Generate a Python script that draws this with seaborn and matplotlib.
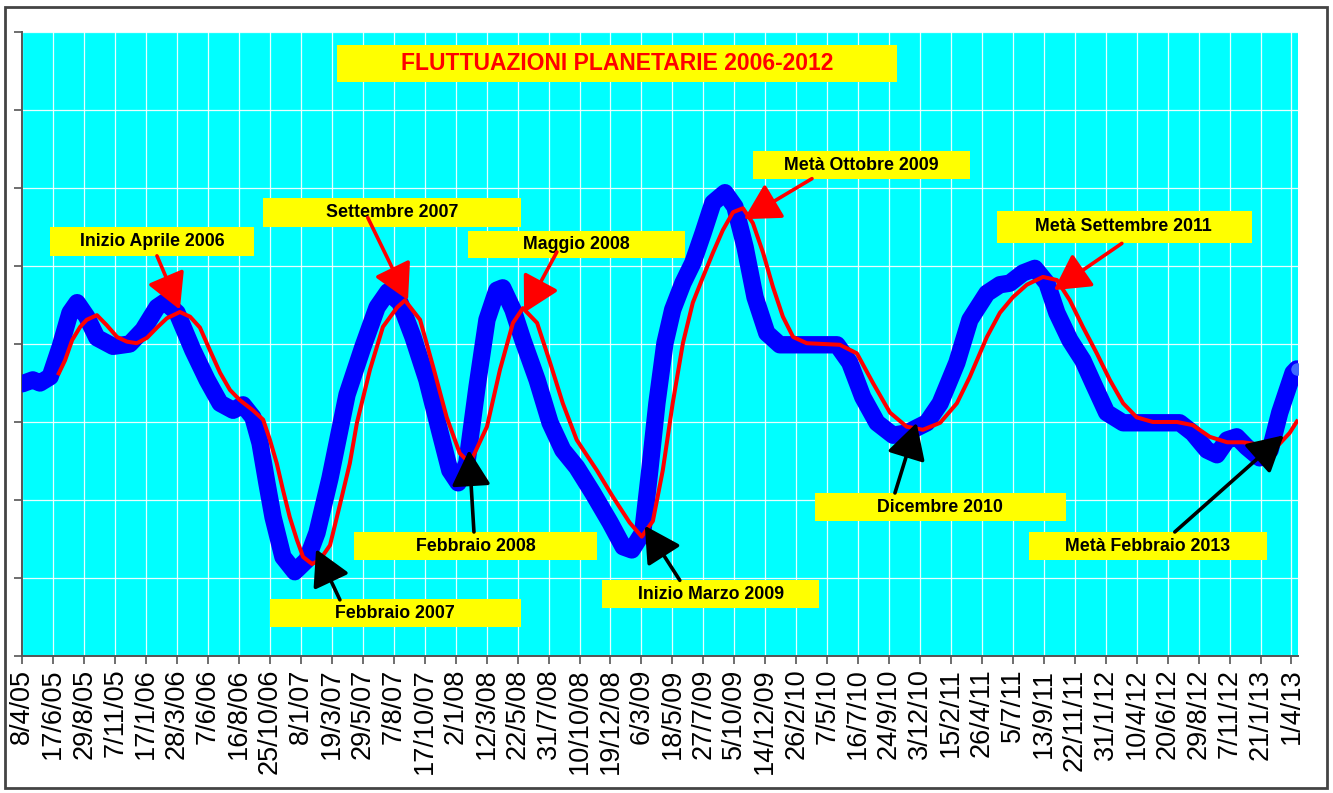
import matplotlib
matplotlib.use("Agg")
import matplotlib.pyplot as plt
from matplotlib.patches import Rectangle
import seaborn as sns
import pandas as pd

# ---------------- data ----------------
tick_labels = ["8/4/05", "17/6/05", "29/8/05", "7/11/05", "17/1/06", "28/3/06", "7/6/06",
               "16/8/06", "25/10/06", "8/1/07", "19/3/07", "29/5/07", "7/8/07", "17/10/07",
               "2/1/08", "12/3/08", "22/5/08", "31/7/08", "10/10/08", "19/12/08", "6/3/09",
               "18/5/09", "27/7/09", "5/10/09", "14/12/09", "26/2/10", "7/5/10", "16/7/10",
               "24/9/10", "3/12/10", "15/2/11", "26/4/11", "5/7/11", "13/9/11", "22/11/11",
               "31/1/12", "10/4/12", "20/6/12", "29/8/12", "7/11/12", "21/1/13", "1/4/13"]
# x positions are counted in label steps (0 = 8/4/05, 41 = 1/4/13)
blue_x = [0.00, 0.34, 0.57, 0.90, 1.22, 1.54, 1.77, 2.08, 2.41, 2.93, 3.47, 3.90, 4.35, 4.61,
          5.00, 5.51, 5.97, 6.39, 6.81, 7.13, 7.45, 7.68, 7.90, 8.10, 8.42, 8.80, 9.19, 9.52,
          9.94, 10.49, 11.00, 11.46, 11.81, 12.20, 12.62, 13.07, 13.50, 13.81, 14.08, 14.36,
          14.69, 15.01, 15.33, 15.52, 15.85, 16.17, 16.63, 17.05, 17.46, 17.91, 18.43, 18.99,
          19.41, 19.69, 20.04, 20.27, 20.50, 20.76, 21.01, 21.34, 21.66, 21.99, 22.31, 22.70,
          23.02, 23.35, 23.67, 24.05, 24.47, 25.34, 26.32, 26.73, 27.15, 27.61, 28.13, 28.57,
          29.22, 29.65, 30.19, 30.61, 31.16, 31.58, 31.90, 32.32, 32.71, 33.10, 33.42, 33.84,
          34.26, 34.59, 35.03, 35.56, 36.33, 37.39, 37.81, 38.27, 38.59, 38.92, 39.23, 39.55,
          39.97, 40.31, 40.62, 41.05, 41.17]
blue_y = [3.49, 3.54, 3.50, 3.58, 3.96, 4.40, 4.53, 4.35, 4.08, 3.97, 4.00, 4.18, 4.47, 4.54,
          4.40, 3.92, 3.54, 3.24, 3.15, 3.22, 3.06, 2.73, 2.22, 1.78, 1.27, 1.08, 1.23, 1.58,
          2.28, 3.35, 3.96, 4.47, 4.67, 4.53, 4.09, 3.54, 2.86, 2.38, 2.22, 2.47,
          3.45, 4.31, 4.69, 4.72, 4.44, 4.05, 3.54, 2.99, 2.64, 2.42, 2.09, 1.71,
          1.40, 1.36, 1.58, 2.38, 3.24, 4.01, 4.44, 4.78, 5.04, 5.42, 5.81, 5.94,
          5.76, 5.24, 4.60, 4.14, 3.99, 3.99, 3.99, 3.76, 3.32, 2.99, 2.83, 2.86,
          2.99, 3.24, 3.76, 4.31, 4.65, 4.76, 4.78, 4.91, 4.97, 4.78, 4.40, 4.05,
          3.79, 3.50, 3.12, 2.99, 2.99, 2.99, 2.86, 2.64, 2.58, 2.77, 2.81, 2.68,
          2.54, 2.64, 3.12, 3.63, 3.68]
red_x = [1.15, 1.38, 1.61, 1.87, 2.08, 2.41, 2.73, 3.06, 3.38, 3.70, 4.03, 4.35, 4.67, 5.09,
         5.42, 5.74, 6.06, 6.39, 6.71, 7.03, 7.45, 7.78, 8.00, 8.22, 8.42, 8.64, 8.87, 9.07,
         9.36, 9.61, 9.94, 10.26, 10.58, 10.81, 11.23, 11.65, 12.11, 12.36, 12.85, 13.27, 13.71,
         14.13, 14.46, 15.01, 15.43, 15.85, 16.17, 16.63, 17.05, 17.46, 17.91, 18.56, 19.08,
         19.62, 20.01, 20.37, 20.69, 21.01, 21.34, 21.66, 21.99, 22.31, 22.63, 22.96, 23.28,
         23.60, 23.93, 24.25, 24.57, 24.90, 25.34, 26.41, 26.96, 27.48, 28.03, 28.57, 29.09,
         29.65, 30.19, 30.61, 31.16, 31.58, 32.00, 32.45, 32.97, 33.42, 33.84, 34.26, 34.71,
         35.13, 35.56, 36.00, 36.52, 37.30, 37.81, 38.36, 38.92, 39.43, 39.97, 40.52, 40.94,
         41.21]
red_y = [3.60, 3.79, 4.05, 4.22, 4.31, 4.37, 4.24, 4.09, 4.03, 4.01, 4.08, 4.21, 4.33, 4.41,
         4.35, 4.21, 3.92, 3.63, 3.41, 3.28, 3.15, 3.03, 2.77, 2.47, 2.13, 1.78, 1.49, 1.27,
         1.18, 1.23, 1.42, 1.94, 2.47, 2.99, 3.67, 4.22, 4.47, 4.56, 4.31, 3.71, 3.06,
         2.60, 2.47, 2.94, 3.67, 4.27, 4.46, 4.27, 3.76, 3.24, 2.77, 2.38, 2.04,
         1.71, 1.53, 1.73, 2.38, 3.24, 4.01, 4.53, 4.86, 5.17, 5.46, 5.69, 5.74,
         5.55, 5.17, 4.73, 4.35, 4.09, 4.01, 3.99, 3.88, 3.50, 3.12, 2.94, 2.90,
         2.99, 3.24, 3.58, 4.09, 4.40, 4.60, 4.76, 4.86, 4.82, 4.56, 4.22, 3.88,
         3.54, 3.24, 3.06, 3.00, 3.00, 2.96, 2.81, 2.74, 2.74, 2.71, 2.68, 2.86,
         3.03]

title_text = "FLUTTUAZIONI PLANETARIE 2006-2012"
note_texts = ["Inizio Aprile 2006", "Settembre 2007", "Maggio 2008", "Metà Ottobre 2009",
              "Metà Settembre 2011", "Febbraio 2007", "Febbraio 2008", "Inizio Marzo 2009",
              "Dicembre 2010", "Metà Febbraio 2013"]

# ---------------- style / layout ----------------
sns.set_style("white")
plt.rcParams['font.family'] = ['Liberation Sans', 'DejaVu Sans']

fig = plt.figure(figsize=(13.33, 7.93), dpi=100)
fig.patch.set_facecolor("white")
ax = fig.add_axes([22.3 / 1333, 1 - 656 / 793, (1298 - 22.3) / 1333, (656 - 32) / 793])
ax.set_facecolor("#00FFFF")

df_b = pd.DataFrame({"x": blue_x, "y": blue_y})
df_r = pd.DataFrame({"x": red_x, "y": red_y})
sns.lineplot(data=df_b, x="x", y="y", ax=ax, color="#0000FF", linewidth=12.5, sort=False,
             solid_capstyle="round", solid_joinstyle="round", zorder=3)
ax.plot(blue_x[-1:], blue_y[-1:], "o", ms=8, mfc="#3F6BFF", mec="#3F6BFF", zorder=4)
sns.lineplot(data=df_r, x="x", y="y", ax=ax, color="#FF0000", linewidth=2.9, sort=False,
             solid_capstyle="butt", solid_joinstyle="round", zorder=5)

ax.set_xlim(0, 41.21)
ax.set_ylim(0, 8)
ax.set_xticks(range(len(tick_labels)))
ax.set_xticklabels(tick_labels, rotation=90, fontsize=19.5, va="top", ha="center",
                   color="black")
ax.set_yticks(range(0, 9))
ax.set_yticklabels([])
ax.set_xlabel("")
ax.set_ylabel("")
ax.grid(True, color="white", linewidth=0.9, alpha=0.9, zorder=0)
ax.set_axisbelow(True)
ax.tick_params(axis="x", direction="out", length=6, width=1.2, color="#555555", pad=3,
               bottom=True)
ax.tick_params(axis="y", direction="out", length=6, width=1.2, color="#555555", left=True)
for s in ["top", "right"]:
    ax.spines[s].set_visible(False)
for s in ["left", "bottom"]:
    ax.spines[s].set_color("#555555")
    ax.spines[s].set_linewidth(1.4)

# ---------------- title box ----------------
ax.add_patch(Rectangle((10.16, 7.36), 28.26 - 10.16, 7.83 - 7.36, facecolor="#FFFF00",
                       edgecolor="none", zorder=6))
ax.text(19.21, 7.595, title_text, color="#FF0000", fontsize=16.5, fontweight="bold",
        ha="center", va="center", zorder=7)

# ---------------- annotation boxes ----------------
# (x0, x1, y0, y1, text_x, text_y, arrow_from, arrow_to, color)
boxes = [
    (0.90, 7.48, 5.13, 5.50, 4.19, 5.32, (4.35, 5.13), (5.09, 4.44), "#FF0000"),
    (7.78, 16.10, 5.50, 5.87, 11.95, 5.69, (11.16, 5.62), (12.46, 4.56), "#FF0000"),
    (14.40, 21.40, 5.10, 5.45, 17.91, 5.28, (17.27, 5.18), (16.21, 4.40), "#FF0000"),
    (23.60, 30.61, 6.12, 6.47, 27.09, 6.29, (25.51, 6.12), (23.31, 5.60), "#FF0000"),
    (31.48, 39.71, 5.29, 5.71, 35.58, 5.51, (35.52, 5.29), (33.32, 4.69), "#FF0000"),
    (8.01, 16.10, 0.37, 0.73, 12.04, 0.55, (10.26, 0.72), (9.49, 1.37), "#000000"),
    (10.72, 18.56, 1.23, 1.59, 14.66, 1.41, (14.59, 1.59), (14.43, 2.64), "#000000"),
    (18.72, 25.73, 0.62, 0.97, 22.24, 0.79, (21.24, 0.97), (20.11, 1.67), "#000000"),
    (25.60, 33.71, 1.73, 2.09, 29.65, 1.91, (28.19, 2.09), (28.89, 2.99), "#000000"),
    (32.52, 40.20, 1.23, 1.59, 36.35, 1.41, (37.23, 1.59), (40.75, 2.83), "#000000"),
]
for (x0, x1, y0, y1, tx, ty, a0, a1, col), txt in zip(boxes, note_texts):
    ax.add_patch(Rectangle((x0, y0), x1 - x0, y1 - y0, facecolor="#FFFF00",
                           edgecolor="none", zorder=6))
    ax.text(tx, ty, txt, color="black", fontsize=12.8, fontweight="bold",
            ha="center", va="center", zorder=7)
    ax.annotate("", xy=a1, xytext=a0,
                arrowprops=dict(arrowstyle="-|>,head_length=1.0,head_width=0.55",
                                color=col, lw=2.6, mutation_scale=22,
                                shrinkA=0, shrinkB=0),
                zorder=8)

# ---------------- outer frame ----------------
fig.add_artist(Rectangle((5 / 1333, 1 - 788 / 793), (1327 - 5) / 1333, (788 - 7) / 793,
                         transform=fig.transFigure, fill=False, edgecolor="#444444",
                         linewidth=2))

fig.savefig("out.png", dpi=100)
